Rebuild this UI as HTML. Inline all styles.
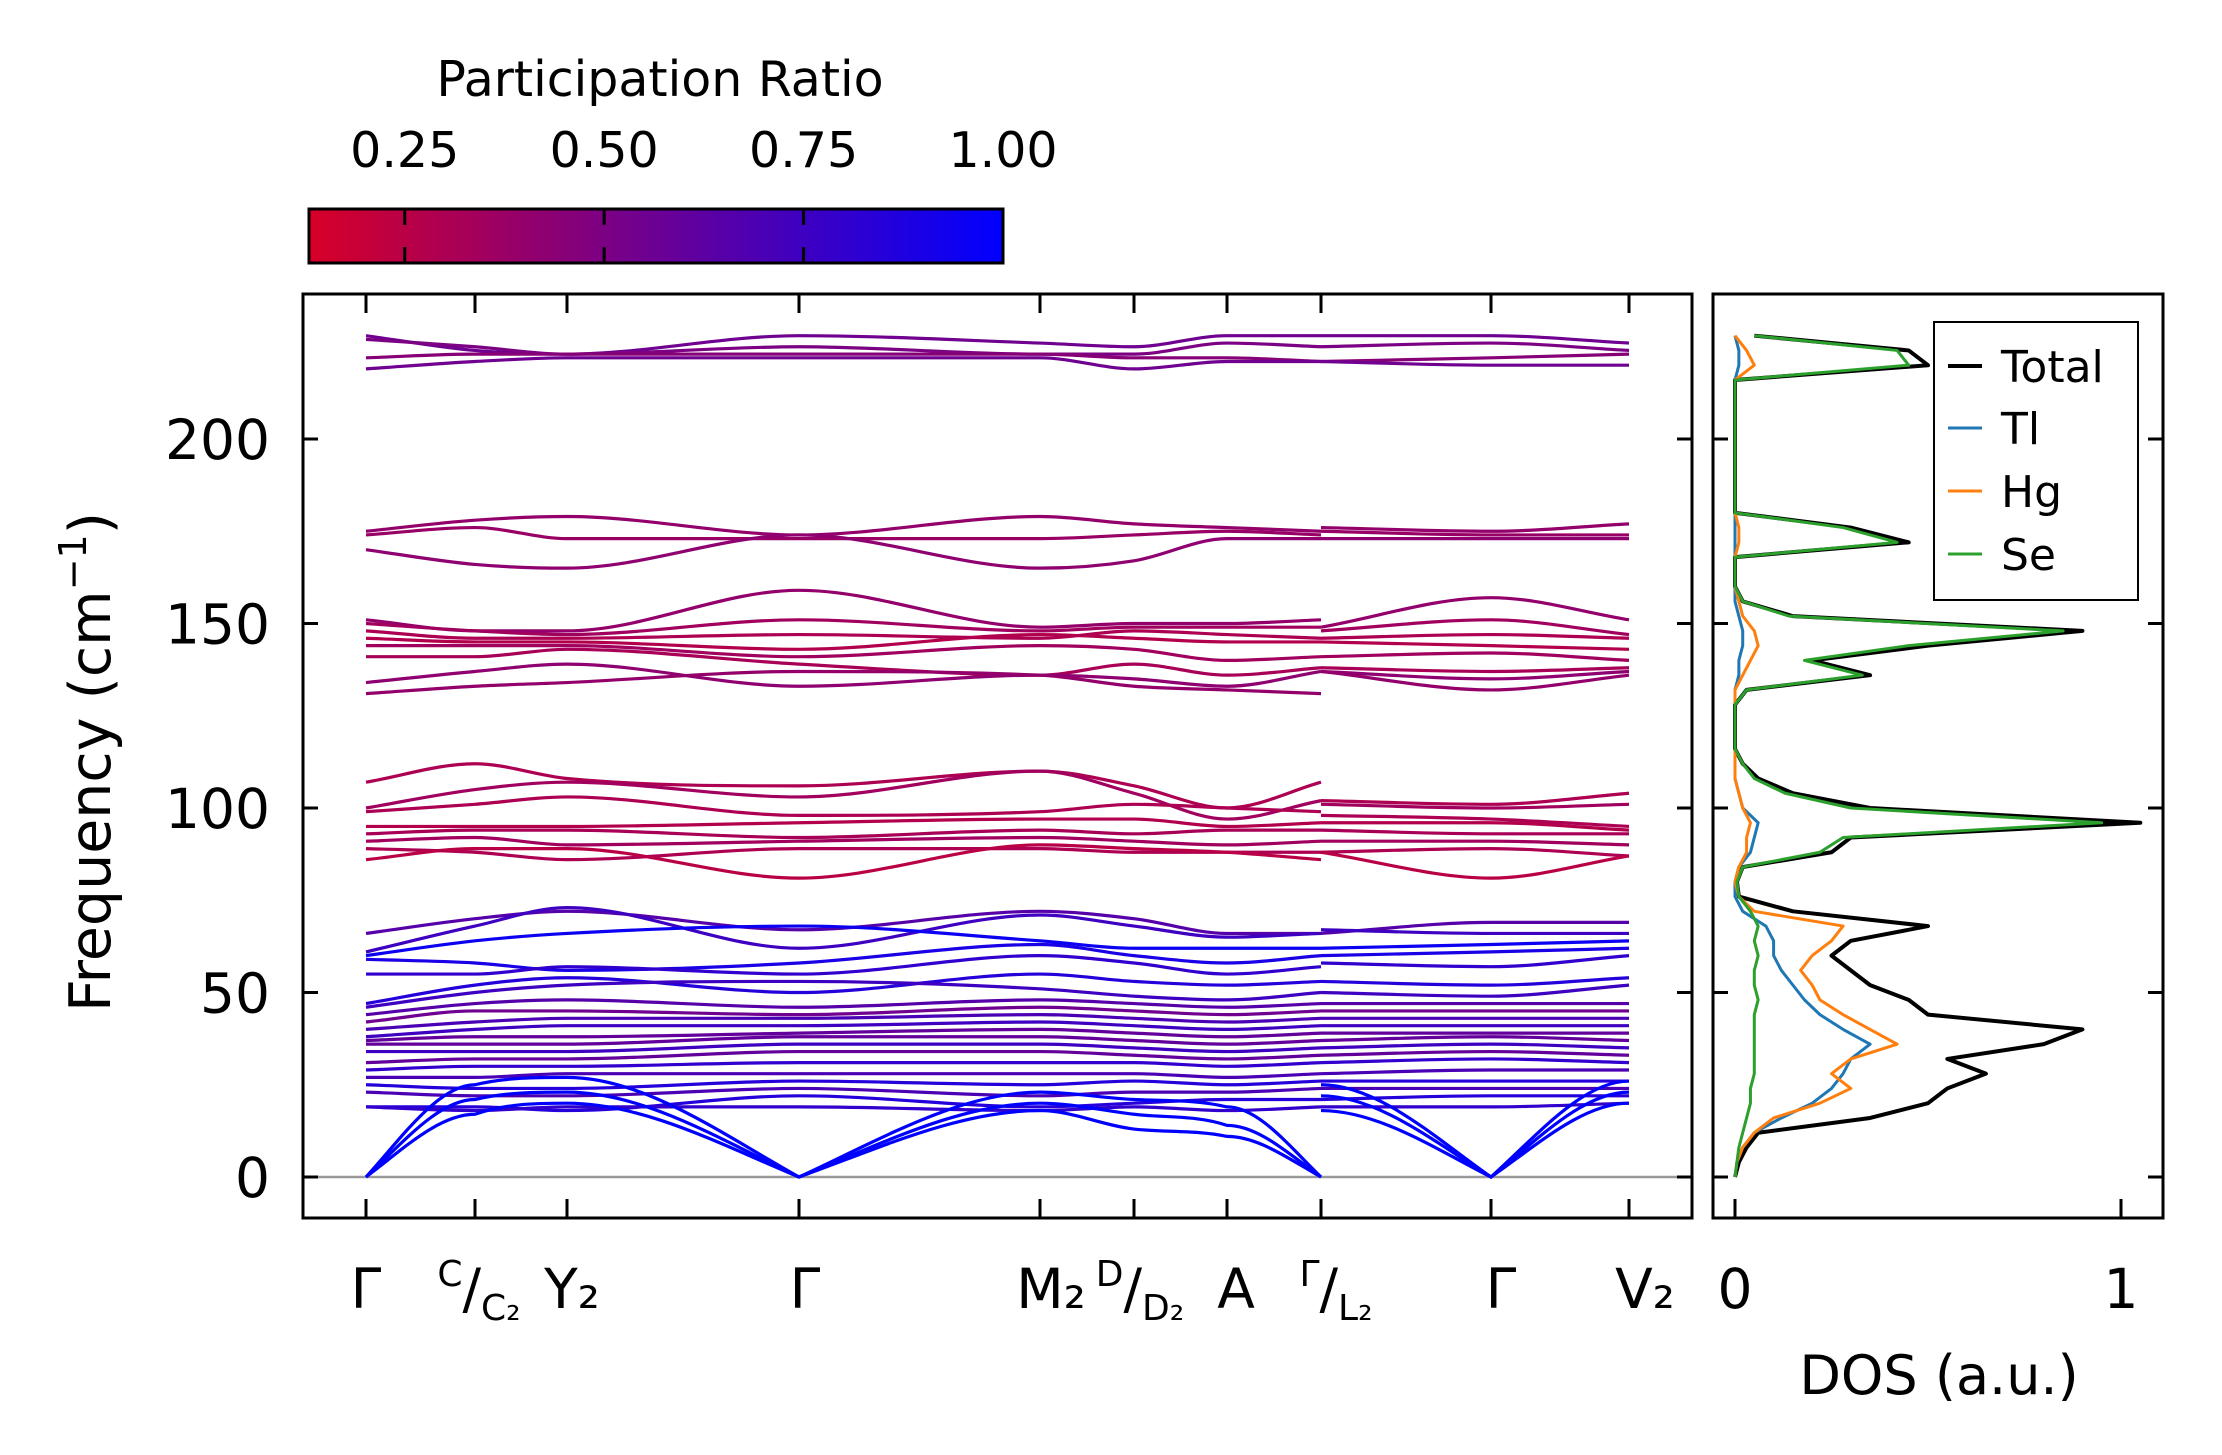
<!DOCTYPE html>
<html><head><meta charset="utf-8"><style>
html,body{margin:0;padding:0;background:#fff;}
svg{display:block;font-family:"DejaVu Sans","Liberation Sans",sans-serif;}
</style></head><body>
<svg id="fig" width="2222" height="1455" viewBox="0 0 2222 1455" xmlns="http://www.w3.org/2000/svg">
<defs>
<linearGradient id="cmap" x1="0" x2="1" y1="0" y2="0">
<stop offset="0" stop-color="rgb(215,0,40)"/><stop offset="1" stop-color="rgb(0,0,255)"/>
</linearGradient>
<clipPath id="mainclip"><rect x="303" y="294" width="1389" height="924"/></clipPath>
<clipPath id="dosclip"><rect x="1713" y="294" width="450" height="924"/></clipPath>
</defs>
<g>
<text x="660" y="96" font-size="49" text-anchor="middle">Participation Ratio</text>
<rect x="309" y="209" width="694" height="54" fill="url(#cmap)" stroke="#000" stroke-width="3"/>
<g id="cbticks"></g>
</g>
<g id="main"></g>
<g id="dos"></g>
</svg>
<script>
// ---- data ----
const kPathX = [366,475,567,799,1040,1134,1227,1321,1491,1629];
const freqTicks = [0,50,100,150,200];
const cbTicks = [0.25,0.50,0.75,1.00];
const cbTickLabels = ["0.25","0.50","0.75","1.00"];
// bands: values at Γ,C,Y2,Γ,M2,D,A,Γ|,L2,Γ,V2
const topBands = [
 [228,224,223,228,226,225,228,228,228,228,226],
 [227,225,223,225,223,223,226,225,225,226,224],
 [222,223,223,223,223,222,222,221,221,222,223],
 [219,221,222,222,222,219,221,221,221,220,220]];
const topPR = [0.55,0.5,0.45,0.55];
const midBands = [
 [175,178,179,174,179,177,176,175,176,175,177],
 [174,176,173,173,173,174,175,174,175,174,174],
 [170,166,165,174,165,167,173,173,173,173,173]];
const midPR = [0.4,0.38,0.42];
const b150 = [
 [151,148,148,159,149,150,150,151,149,157,151],
 [150,148,147,151,148,149,149,149,148,151,147],
 [148,146,146,147,146,148,147,146,146,147,146],
 [146,145,145,143,147,146,145,145,145,144,143],
 [144,144,144,141,144,143,140,141,141,142,140],
 [141,141,143,139,136,139,136,138,138,137,138],
 [134,137,139,133,136,135,133,137,137,135,137],
 [131,133,134,137,136,133,132,131,137,132,136]];
const b150PR = [0.4,0.35,0.3,0.28,0.35,0.32,0.42,0.4];
const b100 = [
 [107,112,108,106,110,106,100,107,102,101,104],
 [100,105,107,103,110,104,97,102,101,100,101],
 [99,101,103,98,99,101,100,99,98,97,95],
 [95,95,95,96,97,97,95,96,96,96,94],
 [93,94,94,92,94,93,94,94,94,93,93],
 [91,92,90,91,92,91,90,91,91,91,90],
 [89,88,86,89,89,88,88,88,88,89,87],
 [86,89,89,81,90,89,88,86,88,81,87]];
const b100PR = [0.3,0.35,0.3,0.28,0.32,0.35,0.3,0.25];
const lowBands = [
 [66,70,72,67,72,70,66,66,66,69,69],
 [61,68,73,62,71,68,65,66,67,66,66],
 [60,64,66,68,64,62,62,62,62,63,64],
 [59,58,56,58,63,60,58,60,60,61,62],
 [55,55,57,55,60,58,55,57,58,57,60],
 [47,52,54,50,55,53,52,53,53,52,54],
 [46,50,52,53,51,49,48,50,50,49,52],
 [44,47,48,46,48,47,46,47,47,47,47],
 [42,45,45,44,46,45,44,45,45,45,45],
 [40,42,43,43,44,43,42,43,43,43,43],
 [38,40,41,41,42,41,40,41,41,41,41],
 [37,38,38,39,40,39,38,39,39,39,39],
 [36,36,36,38,38,37,36,37,37,38,37],
 [34,34,34,36,36,35,34,35,35,36,35],
 [31,32,32,34,34,33,32,33,33,34,33],
 [29,30,30,31,31,31,30,31,31,32,31],
 [27,27,28,28,28,28,27,28,28,29,29],
 [25,24,24,26,25,26,25,26,26,26,26],
 [23,22,22,24,22,23,23,24,24,24,24],
 [19,19,18,22,19,20,21,21,21,22,22],
 [19,18,19,19,18,19,18,19,19,19,20]];
const lowPR = [0.65,0.75,0.95,0.9,0.8,0.85,0.75,0.65,0.55,0.7,0.75,0.6,0.6,0.75,0.6,0.8,0.7,0.85,0.7,0.85,0.8];
const acBands = [
 [0,17,20,0,18,13,11,0,18,0,20],
 [0,21,23,0,20,17,14,0,22,0,23],
 [0,25,27,0,23,21,19,0,25,0,26]];
const acPR = [1,1,1];
// DOS, frequency grid step 4 from 0 to 228
const dosFreq = Array.from({length:58},(_,i)=>i*4);
const dosTotal = [0,.01,.03,.06,.35,.5,.55,.65,.55,.8,.9,.5,.45,.35,.3,.25,.3,.5,.15,.01,.005,.02,.25,.3,1.05,.35,.15,.06,.02,0,0,0,0,.03,.35,.2,.5,.9,.15,.02,0,0,0,.45,.3,0,0,0,0,0,0,0,0,0,0,.5,.45,.05];
const dosSe = [0,.005,.01,.02,.03,.04,.04,.05,.05,.05,.05,.05,.06,.05,.05,.06,.05,.06,.04,.01,.005,.02,.22,.28,.95,.3,.13,.05,.02,0,0,0,0,.03,.33,.18,.45,.85,.14,.02,0,0,0,.42,.28,0,0,0,0,0,0,0,0,0,0,.45,.42,.05];
const dosHg = [0,.005,.02,.05,.1,.22,.3,.25,.3,.42,.35,.28,.22,.2,.17,.2,.25,.28,.05,.01,0,.01,.03,.03,.04,.02,.01,0,0,0,0,0,0,0,.02,.04,.06,.05,.02,.01,0,0,0,.01,.01,0,0,0,0,0,0,0,0,0,0,.05,.03,0];
const dosTl = [0,.005,.02,.05,.12,.2,.25,.28,.3,.35,.28,.22,.18,.15,.12,.1,.1,.08,.02,0,0,.01,.04,.05,.06,.02,.01,0,0,0,0,0,0,0,.01,.01,.02,.02,.01,0,0,0,0,0,0,0,0,0,0,0,0,0,0,0,0,.01,.01,0];

// ---- scales ----
const yF = f => 1177 - f*3.69;
const xD = v => 1735 + v*386;
const cbX = v => 309 + (v-0.13)/(0.87)*694;
function prColor(p){const t=Math.max(0,Math.min(1,(p-0.13)/0.87));return `rgb(${Math.round(215*(1-t))},0,${Math.round(40+215*t)})`;}
const NS="http://www.w3.org/2000/svg";
function mk(tag,attrs,parent){const e=document.createElementNS(NS,tag);for(const k in attrs)e.setAttribute(k,attrs[k]);parent.appendChild(e);return e;}

function monoPath(xs,ys,zeroMask){
 const n=xs.length;const d=[],m=[];
 for(let i=0;i<n-1;i++)d.push((ys[i+1]-ys[i])/(xs[i+1]-xs[i]));
 m[0]=d[0];m[n-1]=d[n-2];
 for(let i=1;i<n-1;i++){m[i]=(d[i-1]*d[i]<=0)?0:(d[i-1]+d[i])/2;}
 for(let i=0;i<n-1;i++){if(d[i]===0){m[i]=0;m[i+1]=0;continue;}const a=m[i]/d[i],b=m[i+1]/d[i],s=a*a+b*b;if(s>9){const t=3/Math.sqrt(s);m[i]=t*a*d[i];m[i+1]=t*b*d[i];}}
 let p=`M${xs[0]},${ys[0]}`;
 for(let i=0;i<n-1;i++){
  const h=(xs[i+1]-xs[i])/3;
  let m0=m[i],m1=m[i+1];
  if(zeroMask&&zeroMask[i])m0=d[i]*1.3;
  if(zeroMask&&zeroMask[i+1])m1=d[i]*1.3;
  if(zeroMask&&zeroMask[i]&&!zeroMask[i+1])m1=0;
  if(zeroMask&&zeroMask[i+1]&&!zeroMask[i])m0=0;
  p+=` C${xs[i]+h},${ys[i]+m0*h} ${xs[i+1]-h},${ys[i+1]-m1*h} ${xs[i+1]},${ys[i+1]}`;}
 return p;
}

const cbg=document.getElementById('cbticks');
cbTicks.forEach((v,i)=>{
 if(v<1){const t=mk('line',{x1:cbX(v),x2:cbX(v),y1:209,y2:263,stroke:'#000','stroke-width':3,'stroke-dasharray':'16 22 16'},cbg);
 
 }
 const tx=mk('text',{x:cbX(v),y:167,'font-size':49,'text-anchor':'middle'},cbg);tx.textContent=cbTickLabels[i];
 
 
});

const main=document.getElementById('main');
const bandsG=mk('g',{'clip-path':'url(#mainclip)'},main);


const zl=mk('line',{x1:303,x2:1692,y1:yF(0),y2:yF(0),stroke:'#999','stroke-width':2.5},bandsG);


const segA=[0,1,2,3,4,5,6,7], segB=[8,9,10];
const segAx=[366,475,567,799,1040,1134,1227,1321], segBx=[1321,1491,1629];
function drawBands(list,prs,name){
 list.forEach((b,i)=>{
  [[segA,segAx],[segB,segBx]].forEach(([idx,xs])=>{
   const vals=idx.map(j=>b[j]);
   const zm=vals.map(v=>v===0);
   const p=mk('path',{d:monoPath(xs,vals.map(yF),zm),fill:'none',stroke:prColor(prs[i]),'stroke-width':3.2},bandsG);
   
   
  });
 });
}
drawBands(topBands,topPR,'band-top');
drawBands(midBands,midPR,'band-175');
drawBands(b150,b150PR,'band-150');
drawBands(b100,b100PR,'band-100');
drawBands(lowBands,lowPR,'band-low');
drawBands(acBands,acPR,'band-acoustic');

const frame=mk('rect',{x:303,y:294,width:1389,height:924,fill:'none',stroke:'#000','stroke-width':3},main);


freqTicks.forEach(f=>{
 const y=yF(f);
 mk('line',{x1:303,x2:318,y1:y,y2:y,stroke:'#000','stroke-width':3},main);
 mk('line',{x1:1677,x2:1692,y1:y,y2:y,stroke:'#000','stroke-width':3},main);
 const t=mk('text',{x:270,y:y+20,'font-size':55,'text-anchor':'end'},main);t.textContent=f;
 
 
 mk('line',{x1:1713,x2:1728,y1:y,y2:y,stroke:'#000','stroke-width':3},main);
 mk('line',{x1:2148,x2:2163,y1:y,y2:y,stroke:'#000','stroke-width':3},main);
});
kPathX.forEach(x=>{
 mk('line',{x1:x,x2:x,y1:1218,y2:1199,stroke:'#000','stroke-width':3},main);
 mk('line',{x1:x,x2:x,y1:294,y2:313,stroke:'#000','stroke-width':3},main);
});
const yl=mk('text',{x:0,y:0,'font-size':57,'text-anchor':'middle',transform:'translate(110,762) rotate(-90)'},main);
yl.innerHTML='Frequency (cm<tspan dy="-24" font-size="38">−1</tspan><tspan dy="24">)</tspan>';


const xl=mk('g',{'font-size':55},main);


xl.innerHTML=`
<text x="366" y="1308" text-anchor="middle">Γ</text>
<text x="479" y="1308" text-anchor="middle"><tspan font-size="36" dy="-22">C</tspan><tspan dy="22">/</tspan><tspan font-size="36" dy="12">C₂</tspan></text>
<text x="572" y="1308" text-anchor="middle">Y₂</text>
<text x="805" y="1308" text-anchor="middle">Γ</text>
<text x="1051" y="1308" text-anchor="middle">M₂</text>
<text x="1140" y="1308" text-anchor="middle"><tspan font-size="36" dy="-22">D</tspan><tspan dy="22">/</tspan><tspan font-size="36" dy="12">D₂</tspan></text>
<text x="1236" y="1308" text-anchor="middle">A</text>
<text x="1336" y="1308" text-anchor="middle"><tspan font-size="36" dy="-22">Γ</tspan><tspan dy="22">/</tspan><tspan font-size="36" dy="12">L₂</tspan></text>
<text x="1501" y="1308" text-anchor="middle">Γ</text>
<text x="1645" y="1308" text-anchor="middle">V₂</text>`;

const dos=document.getElementById('dos');
const dg=mk('g',{'clip-path':'url(#dosclip)'},dos);
function dosLine(vals,color,name,w){
 const pts=vals.map((v,i)=>`${xD(v)},${yF(dosFreq[i])}`).join(' ');
 const l=mk('polyline',{points:pts,fill:'none',stroke:color,'stroke-width':w,'stroke-linejoin':'round'},dg);
 
 
}
dosLine(dosTotal,'#000','dos-total',4);
dosLine(dosTl,'#1f77b4','dos-tl',3);
dosLine(dosHg,'#ff7f0e','dos-hg',3);
dosLine(dosSe,'#2ca02c','dos-se',3);
const df=mk('rect',{x:1713,y:294,width:450,height:924,fill:'none',stroke:'#000','stroke-width':3},dos);


[0,1].forEach(v=>{
 mk('line',{x1:xD(v),x2:xD(v),y1:1218,y2:1199,stroke:'#000','stroke-width':3},dos);
 const t=mk('text',{x:xD(v),y:1308,'font-size':55,'text-anchor':'middle'},dos);t.textContent=v;
 
 
});
const dl=mk('text',{x:1939,y:1394,'font-size':54,'text-anchor':'middle'},dos);dl.textContent='DOS (a.u.)';


const leg=mk('g',{},dos);


mk('rect',{x:1934,y:322,width:204,height:278,fill:'#fff',stroke:'#000','stroke-width':2},leg);
[['Total','#000',366],['Tl','#1f77b4',428],['Hg','#ff7f0e',491],['Se','#2ca02c',554]].forEach(([n,c,y])=>{
 const e=mk('g',{},leg);
 
 
 mk('line',{x1:1948,x2:1982,y1:y,y2:y,stroke:c,'stroke-width':n==='Total'?4:3},e);
 const t=mk('text',{x:2001,y:y+16,'font-size':44},e);t.textContent=n;
});
</script>
</body></html>
